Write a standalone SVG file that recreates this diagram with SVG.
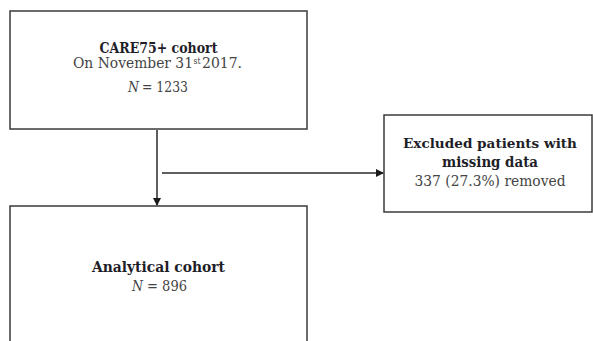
<svg xmlns="http://www.w3.org/2000/svg" width="593" height="341" viewBox="0 0 593 341">
<style>
.box{fill:#fff;stroke:#3a3a3a;stroke-width:1.5}
.t{font-family:"DejaVu Serif","Liberation Serif",serif;text-anchor:middle;font-size:15px}
.s{font-family:"DejaVu Serif","Liberation Serif",serif;font-size:15px}
.sup{font-family:"DejaVu Serif","Liberation Serif",serif;font-size:8.5px}
.b{font-weight:bold;fill:#1e1e28}
.r{fill:#444}
.i{font-style:italic}
.sm{font-size:13.8px}
.edge{stroke:#2a2a2a;stroke-width:1.5;fill:none}
</style>
<defs>
<marker id="ah" markerWidth="8" markerHeight="8" refX="7" refY="4" orient="auto" markerUnits="userSpaceOnUse">
<path d="M0,0 L8,4 L0,8 Z" fill="#1a1a1a"/>
</marker>
</defs>
<rect width="593" height="341" fill="#fff"/>
<g id="node-care75">
<rect class="box" x="10" y="11" width="297" height="118"/>
<text class="t b" x="158.5" y="53" textLength="118" lengthAdjust="spacingAndGlyphs">CARE75+ cohort</text>
<text class="s r" x="73" y="68" textLength="120" lengthAdjust="spacingAndGlyphs">On November 31</text>
<text class="sup r" x="193.5" y="64" textLength="7" lengthAdjust="spacingAndGlyphs">st</text>
<text class="s r" x="202" y="68" textLength="40" lengthAdjust="spacingAndGlyphs">2017.</text>
<text class="s r i" x="128" y="92" textLength="11" lengthAdjust="spacingAndGlyphs">N</text>
<text class="s r" x="142" y="92" textLength="46" lengthAdjust="spacingAndGlyphs">= 1233</text>
</g>
<g id="node-excluded">
<rect class="box" x="384" y="115" width="208" height="97"/>
<text class="t b sm" x="490" y="148" textLength="174" lengthAdjust="spacingAndGlyphs">Excluded patients with</text>
<text class="t b" x="490" y="167" textLength="96" lengthAdjust="spacingAndGlyphs">missing data</text>
<text class="t r" x="490" y="186" textLength="151" lengthAdjust="spacingAndGlyphs">337 (27.3%) removed</text>
</g>
<g id="node-analytical">
<rect class="box" x="10" y="206" width="297" height="150"/>
<text class="t b" x="158.5" y="272" textLength="133" lengthAdjust="spacingAndGlyphs">Analytical cohort</text>
<text class="s r i" x="132" y="291" textLength="11" lengthAdjust="spacingAndGlyphs">N</text>
<text class="s r" x="147" y="291" textLength="40" lengthAdjust="spacingAndGlyphs">= 896</text>
</g>
<g id="connectors">
<line class="edge" x1="157" y1="130" x2="157" y2="205" marker-end="url(#ah)"/>
<line class="edge" x1="162" y1="173" x2="383" y2="173" marker-end="url(#ah)"/>
</g>
</svg>
